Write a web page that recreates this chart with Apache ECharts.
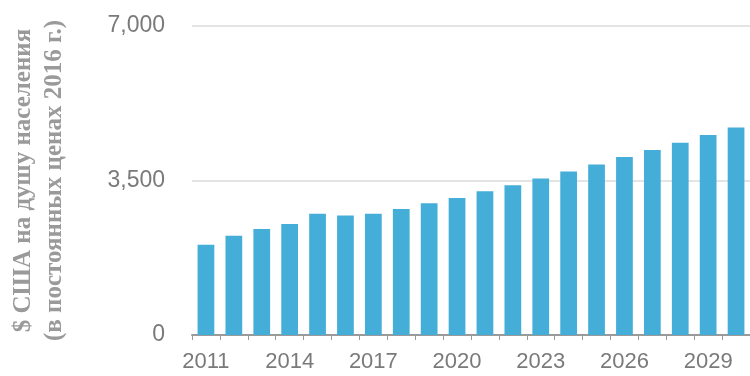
<!DOCTYPE html>
<html>
<head>
<meta charset="utf-8">
<script src="https://cdn.jsdelivr.net/npm/echarts@6/dist/echarts.min.js"></script>
<style>
html,body{margin:0;padding:0;background:#fff;}
#c{width:750px;height:376px;}
</style>
</head>
<body>
<div id="c"></div>
<script>
const years = ['2011','2012','2013','2014','2015','2016','2017','2018','2019','2020','2021','2022','2023','2024','2025','2026','2027','2028','2029','2030'];
const values = [2045, 2250, 2400, 2515, 2745, 2705, 2745, 2855, 2985, 3105, 3255, 3395, 3545, 3705, 3865, 4030, 4190, 4355, 4530, 4700];
const yTicks = [0, 3500, 7000];
const yTitle = '$ США на душу населения\n(в постоянных ценах 2016 г.)';

const chart = echarts.init(document.getElementById('c'), null, {renderer: 'canvas'});
chart.setOption({
  animation: false,
  backgroundColor: '#fff',
  grid: {left: 186, top: 26, height: 309, width: 574.6},
  xAxis: {
    type: 'category',
    data: years,
    axisLine: {show: true, lineStyle: {color: '#9a9a9a', width: 2}},
    axisTick: {show: true, alignWithLabel: false, interval: 0, length: 5, lineStyle: {color: '#9a9a9a', width: 1}},
    axisLabel: {interval: 2, color: '#7a7a7a', fontSize: 22, fontFamily: 'Liberation Sans', margin: 16}
  },
  yAxis: {
    type: 'value',
    min: yTicks[0],
    max: yTicks[yTicks.length - 1],
    interval: 3500,
    axisLine: {show: false},
    axisTick: {show: false},
    splitLine: {lineStyle: {color: '#e4e4e4', width: 2}},
    axisLabel: {
      color: '#7a7a7a', fontSize: 23, fontFamily: 'Liberation Sans', margin: 27,
      formatter: v => v.toLocaleString('en-US')
    },
    name: yTitle,
    nameLocation: 'middle',
    nameRotate: 90,
    nameGap: 122,
    nameTextStyle: {color: '#9a9a9a', fontSize: 25, fontWeight: 'bold', fontFamily: 'Liberation Serif', lineHeight: 31}
  },
  series: [{
    type: 'bar',
    data: values,
    barWidth: '60%',
    itemStyle: {color: '#44aed9'}
  }]
});
</script>
</body>
</html>
